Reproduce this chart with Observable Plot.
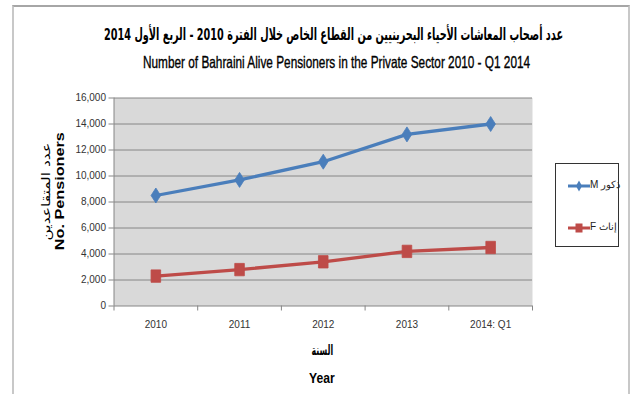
<!DOCTYPE html>
<html>
<head>
<meta charset="utf-8">
<script src="https://cdn.jsdelivr.net/npm/d3@7"></script>
<script src="https://cdn.jsdelivr.net/npm/@observablehq/plot@0.6"></script>
<style>
  html, body { margin: 0; padding: 0; background: #fff; }
  #wrap { position: relative; width: 639px; height: 394px; overflow: hidden; font-family: 'Liberation Sans', Arial, sans-serif; }
  #border { position: absolute; left: 12px; top: 5px; width: 614px; height: 400px; border-left: 2px solid #c8c8c8; border-top: 2px solid #a6a6a6; border-right: 2px solid #c8c8c8; }
  .t { position: absolute; white-space: nowrap; color: #000; line-height: 1.15; }
  #legend { position: absolute; left: 555px; top: 163px; width: 62px; height: 82px; border: 1px solid #333; background: #fff; }
  .li { position: absolute; left: 0; width: 62px; height: 14px; font-size: 10px; white-space: nowrap; }
  .li svg { position: absolute; left: 12px; top: 0; }
  .li span { position: absolute; left: 34px; top: 0px; white-space: nowrap; direction: rtl; unicode-bidi: isolate; color:#222; font-family: 'Liberation Sans', Arial, sans-serif; }
</style>
</head>
<body>
<div id="wrap">
  <div id="border"></div>
  <div id="plot"></div>
</div>
<script>
const years = ["2010", "2011", "2012", "2013", "2014: Q1"];
const male = [8500, 9700, 11100, 13200, 14000];
const female = [2300, 2800, 3400, 4200, 4500];
const yTicks = [0, 2000, 4000, 6000, 8000, 10000, 12000, 14000, 16000];
const seriesNames = ["ذكور M", "إناث F"];
const titleAr = "عدد أصحاب المعاشات الأحياء البحرينيين من القطاع الخاص خلال الفترة 2010 - الربع الأول 2014";
const titleEn = "Number of Bahraini Alive Pensioners in the Private Sector 2010 - Q1 2014";
const yTitleAr = "عدد المتقاعدين";
const yTitleEn = "No. Pensioners";
const xTitleAr = "السنة";
const xTitleEn = "Year";

const blue = "#4a7ebb", red = "#be4b48";
const maleData = years.map((y, i) => ({i, v: male[i]}));
const femaleData = years.map((y, i) => ({i, v: female[i]}));
const bounds = d3.range(years.length + 1).map(k => k - 0.5);
const sans = "'Liberation Sans', Arial, sans-serif";

// Excel-like marker shapes (taller than wide)
const tallDiamond = {draw(ctx) { ctx.moveTo(0, -7.5); ctx.lineTo(4.8, 0); ctx.lineTo(0, 7.5); ctx.lineTo(-4.8, 0); ctx.closePath(); }};
const tallSquare = {draw(ctx) { ctx.moveTo(-4.8, -6.2); ctx.lineTo(4.8, -6.2); ctx.lineTo(4.8, 6.2); ctx.lineTo(-4.8, 6.2); ctx.closePath(); }};

const chart = Plot.plot({
  width: 639, height: 394,
  marginLeft: 113.5, marginRight: 107, marginTop: 97.5, marginBottom: 88.5,
  style: {fontFamily: sans, fontSize: "10px", color: "#333", background: "transparent", overflow: "visible"},
  x: {domain: [-0.5, years.length - 0.5]},
  y: {domain: [0, 16000]},
  marks: [
    Plot.frame({fill: "#d9d9d9", stroke: "none"}),
    Plot.gridY(yTicks, {stroke: "#868686", strokeOpacity: 1, strokeWidth: 1}),
    Plot.ruleX([-0.5], {stroke: "#868686"}),
    Plot.axisY(yTicks, {tickSize: 5, tickPadding: 3, stroke: "#868686", tickFormat: d3.format(","), label: null, fill: "#333", fontSize: 10}),
    Plot.axisX(bounds, {tickSize: 5, stroke: "#868686", tickFormat: () => "", label: null}),
    Plot.axisX(d3.range(years.length), {tickSize: 0, tickPadding: 15, tickFormat: i => years[i], label: null, fill: "#333", fontSize: 10}),
    Plot.line(maleData, {x: "i", y: "v", stroke: blue, strokeWidth: 3.3}),
    Plot.line(femaleData, {x: "i", y: "v", stroke: red, strokeWidth: 3.3}),
    Plot.dot(maleData, {x: "i", y: "v", symbol: tallDiamond, fill: blue, stroke: blue, strokeWidth: 0.8}),
    Plot.dot(femaleData, {x: "i", y: "v", symbol: tallSquare, fill: red, stroke: red, strokeWidth: 0.8})
  ]
});
document.getElementById("plot").appendChild(chart);

const wrap = document.getElementById("wrap");
function addText(txt, css) {
  const d = document.createElement("div");
  d.className = "t";
  d.textContent = txt;
  Object.assign(d.style, css);
  wrap.appendChild(d);
  return d;
}
// place text centred at (cx, cy), horizontally scaled to targetW, optionally rotated
function place(d, cx, cy, targetW, rot) {
  const w = d.offsetWidth, h = d.offsetHeight;
  const s = targetW ? targetW / w : 1;
  d.style.left = (cx - w / 2) + "px";
  d.style.top = (cy - h / 2) + "px";
  d.style.transformOrigin = "50% 50%";
  d.style.transform = (rot ? `rotate(${rot}deg) ` : "") + `scale(${s}, 1)`;
}
const arFont = "'DejaVu Sans', sans-serif";
const tA = addText(titleAr, {fontFamily: arFont, fontWeight: "bold", fontSize: "16.5px", direction: "rtl"});
place(tA, 333, 35, 459);
const tE = addText(titleEn, {fontFamily: sans, fontSize: "16.5px", webkitTextStroke: "0.35px #000"});
place(tE, 336, 62, 387);
const xA = addText(xTitleAr, {fontFamily: arFont, fontWeight: "bold", fontSize: "14px", direction: "rtl"});
place(xA, 322, 350, 22);
const xE = addText(xTitleEn, {fontFamily: sans, fontWeight: "bold", fontSize: "14px"});
place(xE, 322, 378, 26);
const yA = addText(yTitleAr, {fontFamily: arFont, fontSize: "11.5px", direction: "rtl"});
place(yA, 46, 191, 98, -90);
const yE = addText(yTitleEn, {fontFamily: sans, fontWeight: "bold", fontSize: "12.5px"});
place(yE, 60, 191, 118, -90);

// legend
const lg = document.createElement("div");
lg.id = "legend";
wrap.appendChild(lg);
[[seriesNames[0], blue, "diamond"], [seriesNames[1], red, "square"]].forEach(([name, col, shape], k) => {
  const li = document.createElement("div");
  li.className = "li";
  li.style.top = (k === 0 ? 15 : 57) + "px";
  const marker = shape === "diamond"
    ? `<polygon points="11,1.5 14,7 11,12.5 8,7" fill="${col}"/>`
    : `<rect x="7.5" y="2.5" width="7" height="9" fill="${col}"/>`;
  li.innerHTML = `<svg width="22" height="14"><line x1="0" y1="7" x2="22" y2="7" stroke="${col}" stroke-width="3"/>${marker}</svg><span>${name}</span>`;
  lg.appendChild(li);
});
</script>
</body>
</html>
